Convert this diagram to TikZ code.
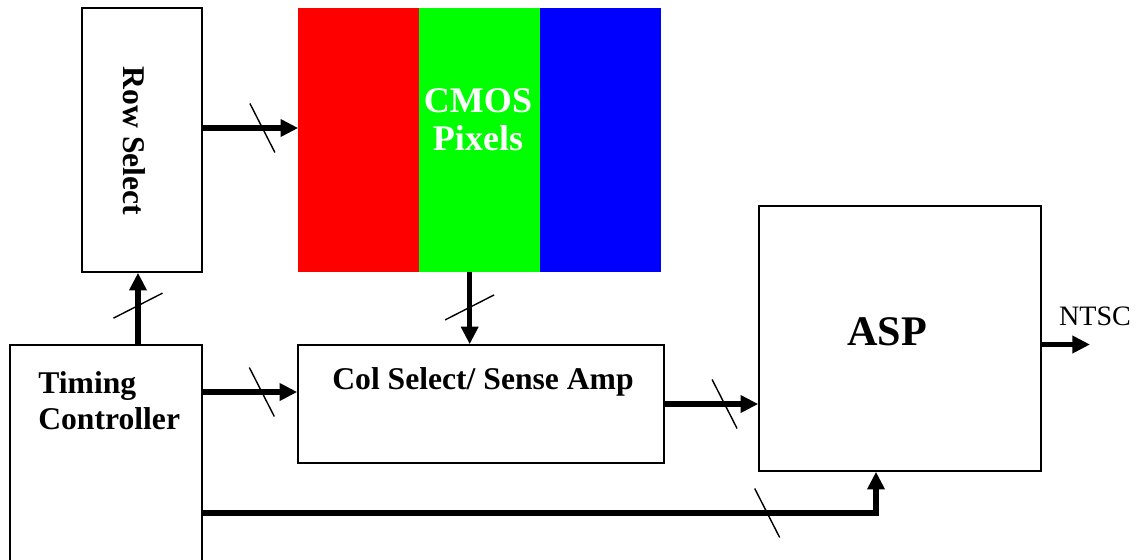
\documentclass[tikz,border=0pt]{standalone}
\usepackage{fontspec}
\setmainfont{Liberation Serif}
\usetikzlibrary{positioning,arrows.meta,calc,decorations.markings}
\definecolor{pixRed}{RGB}{255,0,0}
\definecolor{pixGreen}{RGB}{0,255,0}
\definecolor{pixBlue}{RGB}{0,0,255}

\begin{document}
\begin{tikzpicture}[
  x=0.02cm, y=0.02cm,
  blockNode/.style={draw, line width=0.9pt, inner sep=0pt},
  pixStrip/.style={inner sep=0pt, outer sep=0pt, minimum width=2.42cm,
                   minimum height=5.28cm},
  boldText/.style={inner sep=0pt, font=\bfseries\fontsize{18}{20.4}\selectfont},
  wire/.style={line width=3.2pt, -{Triangle[length=10pt,width=9.5pt]}},
  bus/.style={wire, postaction={decorate, decoration={markings,
      mark=at position #1 with {\draw[-, line width=0.8pt] (-12.5,24.5) -- (12.5,-24.5);}}}}
]
  \clip (0,0) rectangle (1137,-559);

  % blocks
  \node[blockNode, minimum width=2.4cm, minimum height=5.28cm] (rowsel) at (142,-140) {};
  \node[pixStrip, fill=pixRed] (red) at (358.7,-140) {};
  \node[pixStrip, fill=pixGreen, right=0pt of red] (green) {};
  \node[pixStrip, fill=pixBlue, right=0pt of green] (blue) {};
  \node[blockNode, minimum width=3.84cm, minimum height=4.5cm] (tc) at (106,-457.5) {};
  \node[blockNode, minimum width=7.32cm, minimum height=2.36cm] (colsel) at (481,-404) {};
  \node[blockNode, minimum width=5.64cm, minimum height=5.3cm] (asp) at (900,-338.5) {};

  % texts
  \node[boldText, rotate=-90] (rowtext) at (134,-141) {Row Select};
  \node[boldText, font=\bfseries\fontsize{20.5}{21.5}\selectfont, text=white, align=center]
    (pixtext) at (478,-120) {CMOS\\Pixels};
  \node[boldText, anchor=west, align=left] (tctext) at (38,-401) {Timing\\Controller};
  \node[boldText, anchor=base] (coltext) at (483,-389) {Col Select/ Sense Amp};
  \node[boldText, anchor=base, font=\bfseries\fontsize{24}{28}\selectfont] (asptext)
    at (887,-345) {ASP};
  \node[inner sep=0pt, anchor=base, font=\fontsize{16}{19}\selectfont] (ntsc)
    at (1095,-325) {NTSC};

  % buses
  \coordinate (rowOut) at ($(rowsel.east)+(0,12)$);
  \draw[bus=0.625] (rowOut) -- (rowOut -| red.west);
  \coordinate (rsIn) at ($(rowsel.south)+(-4,0)$);
  \draw[bus=0.54] (rsIn |- tc.north) -- (rsIn);
  \coordinate (pixOut) at ($(green.south)+(-10,0)$);
  \draw[bus=0.49] (pixOut) -- (pixOut |- colsel.north);
  \coordinate (colIn) at ($(colsel.west)+(0,12)$);
  \draw[bus=0.625] (colIn -| tc.east) -- (colIn);
  \draw[bus=0.64] (colsel.east) -- (colsel.east -| asp.west);
  \coordinate (tcOut) at ($(tc.east)+(0,-55.5)$);
  \coordinate (aspIn) at ($(asp.south)+(-24,0)$);
  \draw[bus=0.79] (tcOut) -| (aspIn);
  \coordinate (aspOut) at ($(asp.east)+(0,-6)$);
  \coordinate (ntscTip) at (1090,-344.5);
  \draw[wire] (aspOut) -- (ntscTip);
\end{tikzpicture}
\end{document}
